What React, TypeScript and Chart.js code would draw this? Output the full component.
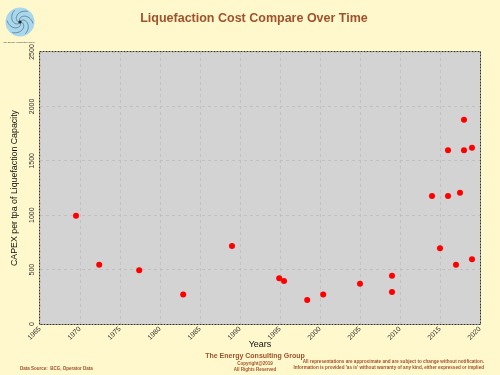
import React, { useEffect, useRef } from "react";
import { Chart, registerables } from "chart.js";

Chart.register(...registerables);

const years: number[] = [1969.5, 1972.4, 1977.4, 1982.9, 1989.0, 1994.9, 1995.5, 1998.4, 2000.4, 2005.0, 2009.0, 2009.0, 2014.0, 2015.0, 2016.0, 2016.0, 2017.0, 2017.5, 2018.0, 2018.0, 2019.0, 2019.0];
const capex: number[] = [995, 545, 495, 270, 717, 420, 395, 220, 270, 370, 444, 294, 1176, 696, 1176, 1596, 545, 1207, 1878, 1596, 1620, 595];

const titleText = "Liquefaction Cost Compare Over Time";
const xTitle = "Years";
const yTitle = "CAPEX per tpa of Liquefaction Capacity";
const footerCompany = "The Energy Consulting Group";
const footerCopy = "Copyright@2019";
const footerRights = "All Rights Reserved";
const footerSource = "Data Source:  BCG, Operator Data";
const disclaimer1 = "All representations are approximate and are subject to change without notification.";
const disclaimer2 = "Information is provided 'as is' without warranty of any kind, either expressed or implied";

const BG = "#FFF8CC";
const BROWN = "#A0522D";

const decor = {
  id: "decor",
  beforeDraw(chart: any) {
    const ctx = chart.ctx;
    ctx.save();
    ctx.fillStyle = BG;
    ctx.fillRect(0, 0, chart.width, chart.height);
    const a = chart.chartArea;
    ctx.fillStyle = "#D3D3D3";
    ctx.fillRect(a.left, a.top, a.right - a.left, a.bottom - a.top);
    // logo
    ctx.beginPath();
    ctx.arc(20, 22, 14.5, 0, Math.PI * 2);
    ctx.fillStyle = "#A9D7EC";
    ctx.fill();
    ctx.strokeStyle = "#3c5a6a";
    ctx.lineWidth = 0.6;
    for (let k = 0; k < 6; k++) {
      const base = (k * Math.PI * 2) / 6;
      ctx.beginPath();
      for (let t = 0; t <= 1.0001; t += 0.05) {
        const r = 1 + t * 12;
        const ang = base + t * 2.2;
        const px = 20 + r * Math.cos(ang);
        const py = 22 + r * Math.sin(ang);
        if (t === 0) ctx.moveTo(px, py);
        else ctx.lineTo(px, py);
      }
      ctx.stroke();
    }
    ctx.beginPath();
    ctx.arc(20, 22, 1.6, 0, Math.PI * 2);
    ctx.fillStyle = "#1a2a33";
    ctx.fill();
    ctx.fillStyle = "#333";
    ctx.font = "2.4px Arial";
    ctx.textAlign = "center";
    ctx.textBaseline = "middle";
    ctx.fillText(footerCompany, 19, 42.5);
    ctx.restore();
  },
  afterDraw(chart: any) {
    const ctx = chart.ctx;
    const a = chart.chartArea;
    ctx.save();
    // dashed border
    ctx.strokeStyle = "#333";
    ctx.lineWidth = 1;
    ctx.setLineDash([2, 1]);
    ctx.strokeRect(a.left - 0.5, a.top - 0.5, a.right - a.left + 1, a.bottom - a.top + 1);
    ctx.setLineDash([]);
    // title
    ctx.fillStyle = BROWN;
    ctx.textAlign = "center";
    ctx.textBaseline = "middle";
    ctx.font = "bold 12.5px Arial";
    ctx.fillText(titleText, 254, 19);
    // axis titles
    ctx.fillStyle = "#111";
    ctx.font = "9px Arial";
    ctx.fillText(xTitle, 260, 345);
    ctx.save();
    ctx.translate(15, 188);
    ctx.rotate(-Math.PI / 2);
    ctx.font = "8.8px Arial";
    ctx.fillText(yTitle, 0, 0);
    ctx.restore();
    // footer
    ctx.fillStyle = BROWN;
    ctx.font = "bold 7px Arial";
    ctx.fillText(footerCompany, 255, 356);
    ctx.font = "bold 4.5px Arial";
    ctx.fillText(footerCopy, 255, 363.5);
    ctx.fillText(footerRights, 255, 369.5);
    ctx.textAlign = "left";
    ctx.fillText(footerSource, 20, 369);
    ctx.textAlign = "right";
    ctx.font = "bold 4.6px Arial";
    ctx.fillText(disclaimer1, 484, 362);
    ctx.fillText(disclaimer2, 484, 367.5);
    ctx.restore();
  },
};

export default function App() {
  const ref = useRef<HTMLCanvasElement>(null);
  useEffect(() => {
    document.body.style.margin = "0";
    document.body.style.background = BG;
    const chart = new Chart(ref.current!, {
      type: "scatter",
      data: {
        datasets: [
          {
            data: years.map((x, i) => ({ x, y: capex[i] })),
            backgroundColor: "#FF0000",
            borderColor: "#FF0000",
            borderWidth: 0,
            pointRadius: 3,
            pointHoverRadius: 3,
          },
        ],
      },
      options: {
        responsive: false,
        animation: false,
        layout: { padding: { left: 0, right: 20, top: 52, bottom: 0 } },
        plugins: { legend: { display: false }, tooltip: { enabled: false }, title: { display: false } },
        scales: {
          x: {
            type: "linear",
            min: 1965,
            max: 2020,
            afterFit: (s: any) => {
              s.height = 51;
            },
            ticks: {
              stepSize: 5,
              minRotation: 45,
              maxRotation: 45,
              padding: 1,
              color: "#333",
              font: { family: "Arial", size: 7 },
              callback: (v: any) => String(v),
            },
            grid: { color: "#BDBDBD", lineWidth: 0.8, drawTicks: false, tickLength: 0 },
            border: { display: false, dash: [3, 3] },
          },
          y: {
            min: 0,
            max: 2500,
            afterFit: (s: any) => {
              s.width = 40;
            },
            ticks: {
              stepSize: 500,
              minRotation: 90,
              maxRotation: 90,
              crossAlign: "center",
              padding: 0,
              color: "#333",
              font: { family: "Arial", size: 7 },
              callback: (v: any) => String(v),
            },
            grid: { color: "#BDBDBD", lineWidth: 0.8, drawTicks: false, tickLength: 0 },
            border: { display: false, dash: [3, 3] },
          },
        },
      } as any,
      plugins: [decor],
    });
    return () => chart.destroy();
  }, []);
  return (
    <div style={{ width: 500, height: 375 }}>
      <canvas ref={ref} width={500} height={375} />
    </div>
  );
}
